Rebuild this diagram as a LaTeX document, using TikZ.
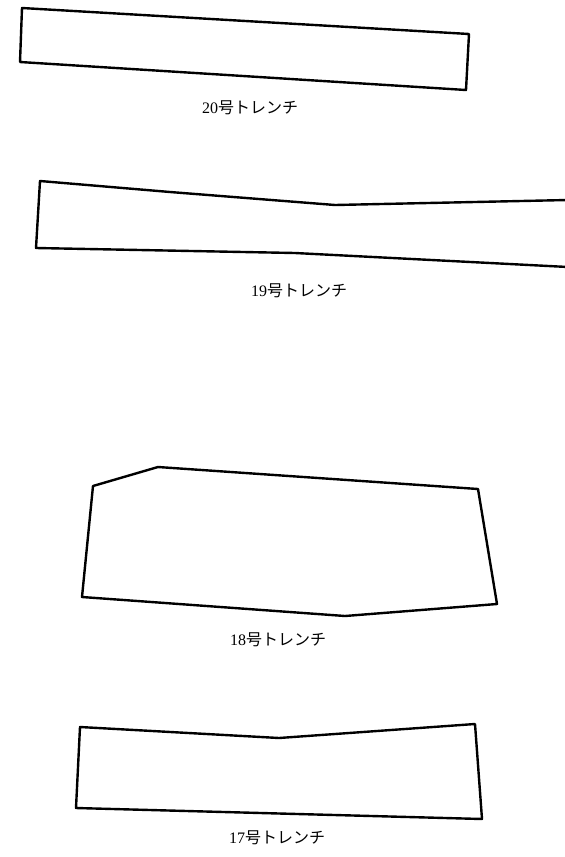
\documentclass[tikz,border=0pt]{standalone}
\usepackage{fontspec}
\setmainfont{Liberation Serif}
\newfontfamily\jpfont{Noto Sans CJK JP}
\begin{document}
\begin{tikzpicture}[x=1pt,y=-1pt,
  trench/.style={draw=black,line width=2.4pt,line join=round},
  lbl/.style={font=\fontsize{16}{17}\selectfont,inner sep=0pt}]
\useasboundingbox (0,0) rectangle (565,857);
% 20
\draw[trench] (22,8) -- (469,34) -- (466,90) -- (20,62) -- cycle;
\node[lbl] (t20) at (250,108) {20{\jpfont 号トレンチ}};
% 19
\draw[trench] (568,200) -- (335,205) -- (170,192) -- (40,181) -- (36,248) -- (295,253) -- (568,267);
\node[lbl] (t19) at (299,291) {19{\jpfont 号トレンチ}};
% 18
\draw[trench] (93,486) -- (158,467) -- (478,489) -- (497,604) -- (345,616) -- (82,597) -- cycle;
\node[lbl] (t18) at (278,640) {18{\jpfont 号トレンチ}};
% 17
\draw[trench] (80,727) -- (279,738) -- (475,724) -- (482,819) -- (76,808) -- cycle;
\node[lbl] (t17) at (277,838) {17{\jpfont 号トレンチ}};
\end{tikzpicture}
\end{document}
